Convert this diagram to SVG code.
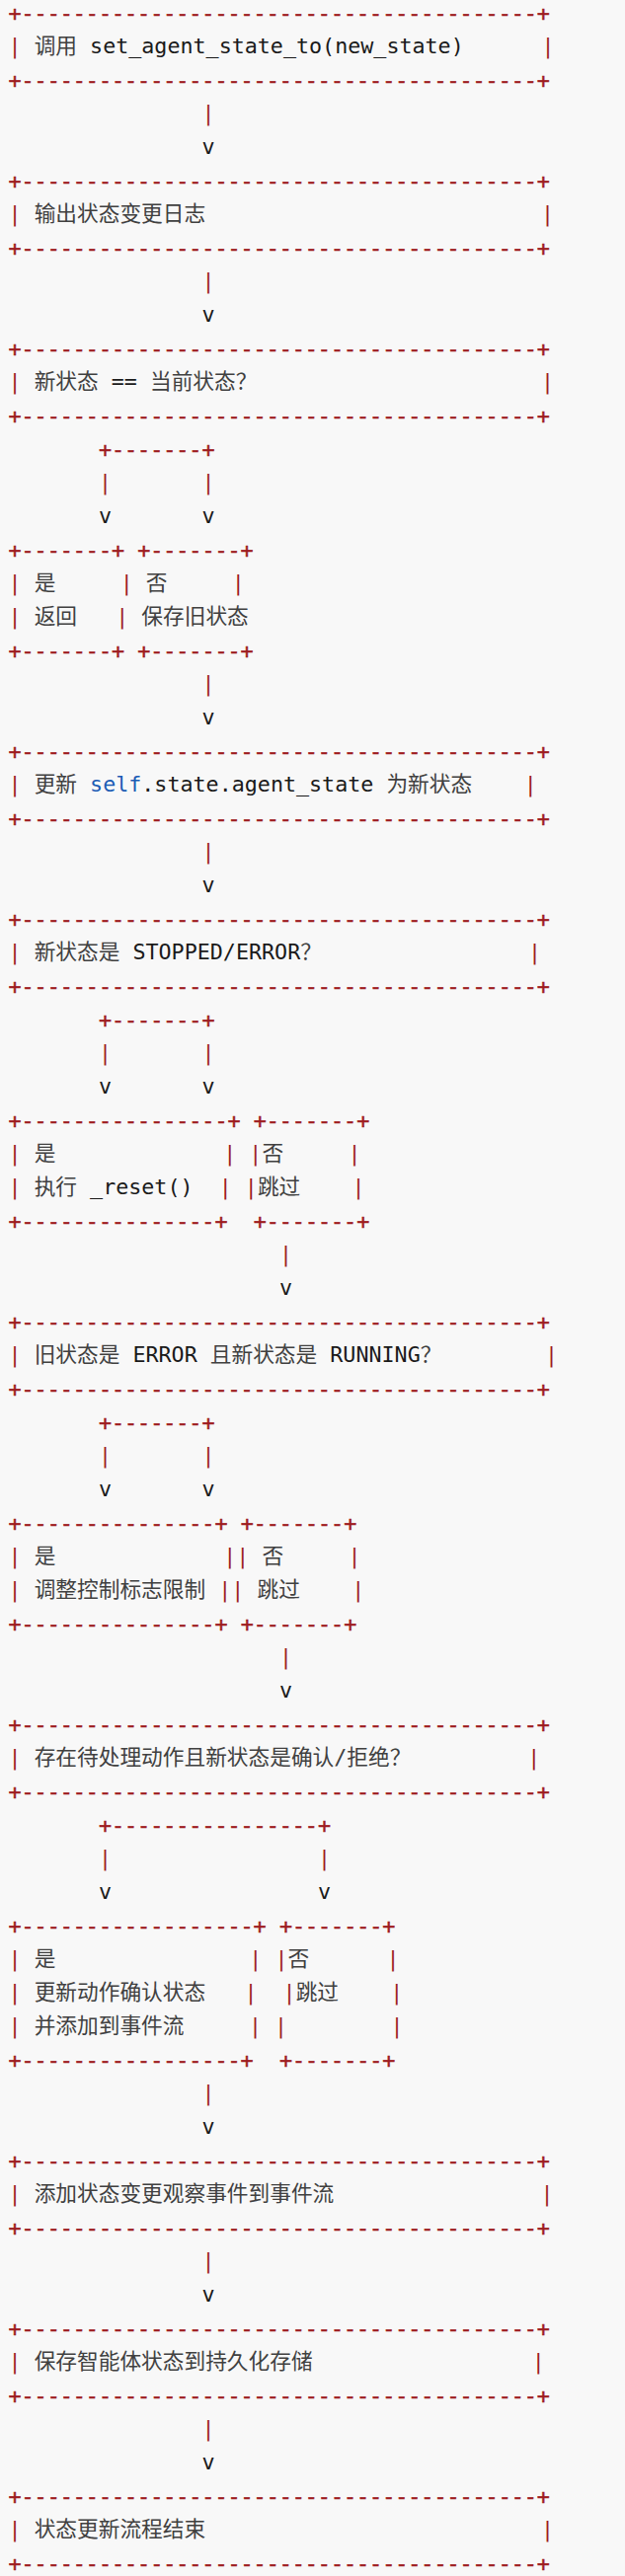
<svg xmlns="http://www.w3.org/2000/svg" width="633" height="2610" viewBox="0 0 633 2610" xml:space="preserve">
<style>
text{font-family:"DejaVu Sans Mono","Noto Sans CJK SC",monospace;font-size:21.7px;fill:#1a1a1a;white-space:pre}
.r{fill:#9e1c1f}
.bd{fill:#9e1c1f;stroke:#9e1c1f;stroke-width:0.5}
.g{fill:#404040}
.k{fill:#1c5cb5}
</style>
<rect width="633" height="2610" fill="#f8f8f8"/>
<g id="connectors">
<text x="204.5" y="121.5" class="r">|</text><text x="204.5" y="155.5">v</text>
<text x="204.5" y="291.5" class="r">|</text><text x="204.5" y="325.5">v</text>
<text x="99.95" y="463" class="bd">+-------+</text>
<text x="99.95" y="495.5" class="r">|</text><text x="204.5" y="495.5" class="r">|</text>
<text x="99.95" y="529.5">v</text><text x="204.5" y="529.5">v</text>
<text x="204.5" y="699.5" class="r">|</text><text x="204.5" y="733.5">v</text>
<text x="204.5" y="869.5" class="r">|</text><text x="204.5" y="903.5">v</text>
<text x="99.95" y="1041" class="bd">+-------+</text>
<text x="99.95" y="1073.5" class="r">|</text><text x="204.5" y="1073.5" class="r">|</text>
<text x="99.95" y="1107.5">v</text><text x="204.5" y="1107.5">v</text>
<text x="282.9" y="1277.5" class="r">|</text><text x="282.9" y="1311.5">v</text>
<text x="99.95" y="1449" class="bd">+-------+</text>
<text x="99.95" y="1481.5" class="r">|</text><text x="204.5" y="1481.5" class="r">|</text>
<text x="99.95" y="1515.5">v</text><text x="204.5" y="1515.5">v</text>
<text x="282.9" y="1685.5" class="r">|</text><text x="282.9" y="1719.5">v</text>
<text x="99.95" y="1857" class="bd">+----------------+</text>
<text x="99.95" y="1889.5" class="r">|</text><text x="322.1" y="1889.5" class="r">|</text>
<text x="99.95" y="1923.5">v</text><text x="322.1" y="1923.5">v</text>
<text x="204.5" y="2127.5" class="r">|</text><text x="204.5" y="2161.5">v</text>
<text x="204.5" y="2297.5" class="r">|</text><text x="204.5" y="2331.5">v</text>
<text x="204.5" y="2467.5" class="r">|</text><text x="204.5" y="2501.5">v</text>
</g>
<g id="n1">
<text x="8.5" y="21" class="bd">+----------------------------------------+</text>
<text x="8.5" y="53.5"><tspan class="r">|</tspan> <tspan class="g">调用</tspan> set_agent_state_to(new_state)<tspan class="r" x="548.4">|</tspan></text>
<text x="8.5" y="89" class="bd">+----------------------------------------+</text>
</g>
<g id="n2">
<text x="8.5" y="191" class="bd">+----------------------------------------+</text>
<text x="8.5" y="223.5"><tspan class="r">|</tspan> <tspan class="g">输出状态变更日志</tspan><tspan class="r" x="547.9">|</tspan></text>
<text x="8.5" y="259" class="bd">+----------------------------------------+</text>
</g>
<g id="n3">
<text x="8.5" y="361" class="bd">+----------------------------------------+</text>
<text x="8.5" y="393.5"><tspan class="r">|</tspan> <tspan class="g">新状态</tspan> == <tspan class="g">当前状态？</tspan><tspan class="r" x="547.9">|</tspan></text>
<text x="8.5" y="429" class="bd">+----------------------------------------+</text>
</g>
<g id="n4">
<text x="8.5" y="565" class="bd">+-------+</text><text x="139.15" y="565" class="bd">+-------+</text>
<text x="8.5" y="597.5"><tspan class="r">|</tspan> <tspan class="g">是</tspan><tspan class="r" x="121.7">|</tspan> <tspan class="g">否</tspan><tspan class="r" x="234.8">|</tspan></text>
<text x="8.5" y="631.5"><tspan class="r">|</tspan> <tspan class="g">返回</tspan><tspan class="r" x="117.2">|</tspan> <tspan class="g">保存旧状态</tspan></text>
<text x="8.5" y="667" class="bd">+-------+</text><text x="139.15" y="667" class="bd">+-------+</text>
</g>
<g id="n5">
<text x="8.5" y="769" class="bd">+----------------------------------------+</text>
<text x="8.5" y="801.5"><tspan class="r">|</tspan> <tspan class="g">更新</tspan> <tspan class="k">self</tspan>.state.agent_state <tspan class="g">为新状态</tspan><tspan class="r" x="530.7">|</tspan></text>
<text x="8.5" y="837" class="bd">+----------------------------------------+</text>
</g>
<g id="n6">
<text x="8.5" y="939" class="bd">+----------------------------------------+</text>
<text x="8.5" y="971.5"><tspan class="r">|</tspan> <tspan class="g">新状态是</tspan> STOPPED/ERROR<tspan class="g">？</tspan><tspan class="r" x="535.1">|</tspan></text>
<text x="8.5" y="1007" class="bd">+----------------------------------------+</text>
</g>
<g id="n7">
<text x="8.5" y="1143" class="bd">+----------------+</text><text x="256.7" y="1143" class="bd">+-------+</text>
<text x="8.5" y="1175.5"><tspan class="r">|</tspan> <tspan class="g">是</tspan><tspan class="r" x="226.2">|</tspan> <tspan class="r">|</tspan><tspan class="g">否</tspan><tspan class="r" x="352.4">|</tspan></text>
<text x="8.5" y="1209.5"><tspan class="r">|</tspan> <tspan class="g">执行</tspan> _reset()<tspan class="r" x="221.7">|</tspan> <tspan class="r">|</tspan><tspan class="g">跳过</tspan><tspan class="r" x="356.5">|</tspan></text>
<text x="8.5" y="1245" class="bd">+---------------+</text><text x="256.7" y="1245" class="bd">+-------+</text>
</g>
<g id="n8">
<text x="8.5" y="1347" class="bd">+----------------------------------------+</text>
<text x="8.5" y="1379.5"><tspan class="r">|</tspan> <tspan class="g">旧状态是</tspan> ERROR <tspan class="g">且新状态是</tspan> RUNNING<tspan class="g">？</tspan><tspan class="r" x="552.1">|</tspan></text>
<text x="8.5" y="1415" class="bd">+----------------------------------------+</text>
</g>
<g id="n9">
<text x="8.5" y="1551" class="bd">+---------------+</text><text x="243.7" y="1551" class="bd">+-------+</text>
<text x="8.5" y="1583.5"><tspan class="r">|</tspan> <tspan class="g">是</tspan><tspan class="r" x="226.2">||</tspan> <tspan class="g">否</tspan><tspan class="r" x="352.4">|</tspan></text>
<text x="8.5" y="1617.5"><tspan class="r">|</tspan> <tspan class="g">调整控制标志限制</tspan><tspan class="r" x="221.3">||</tspan> <tspan class="g">跳过</tspan><tspan class="r" x="356.2">|</tspan></text>
<text x="8.5" y="1653" class="bd">+---------------+</text><text x="243.7" y="1653" class="bd">+-------+</text>
</g>
<g id="n10">
<text x="8.5" y="1755" class="bd">+----------------------------------------+</text>
<text x="8.5" y="1787.5"><tspan class="r">|</tspan> <tspan class="g">存在待处理动作且新状态是确认/拒绝？</tspan><tspan class="r" x="534.2">|</tspan></text>
<text x="8.5" y="1823" class="bd">+----------------------------------------+</text>
</g>
<g id="n11">
<text x="8.5" y="1959" class="bd">+------------------+</text><text x="282.9" y="1959" class="bd">+-------+</text>
<text x="8.5" y="1991.5"><tspan class="r">|</tspan> <tspan class="g">是</tspan><tspan class="r" x="252.3">|</tspan> <tspan class="r">|</tspan><tspan class="g">否</tspan><tspan class="r" x="391.6">|</tspan></text>
<text x="8.5" y="2025.5"><tspan class="r">|</tspan> <tspan class="g">更新动作确认状态</tspan><tspan class="r" x="247.4">|</tspan><tspan class="r" x="286.6">|</tspan><tspan class="g">跳过</tspan><tspan class="r" x="395.3">|</tspan></text>
<text x="8.5" y="2059.5"><tspan class="r">|</tspan> <tspan class="g">并添加到事件流</tspan><tspan class="r" x="251.9">|</tspan><tspan class="r" x="278">|</tspan><tspan class="r" x="395.6">|</tspan></text>
<text x="8.5" y="2095" class="bd">+-----------------+</text><text x="282.9" y="2095" class="bd">+-------+</text>
</g>
<g id="n12">
<text x="8.5" y="2197" class="bd">+----------------------------------------+</text>
<text x="8.5" y="2229.5"><tspan class="r">|</tspan> <tspan class="g">添加状态变更观察事件到事件流</tspan><tspan class="r" x="547.5">|</tspan></text>
<text x="8.5" y="2265" class="bd">+----------------------------------------+</text>
</g>
<g id="n13">
<text x="8.5" y="2367" class="bd">+----------------------------------------+</text>
<text x="8.5" y="2399.5"><tspan class="r">|</tspan> <tspan class="g">保存智能体状态到持久化存储</tspan><tspan class="r" x="538.8">|</tspan></text>
<text x="8.5" y="2435" class="bd">+----------------------------------------+</text>
</g>
<g id="n14">
<text x="8.5" y="2537" class="bd">+----------------------------------------+</text>
<text x="8.5" y="2569.5"><tspan class="r">|</tspan> <tspan class="g">状态更新流程结束</tspan><tspan class="r" x="547.9">|</tspan></text>
<text x="8.5" y="2605" class="bd">+----------------------------------------+</text>
</g>
</svg>
